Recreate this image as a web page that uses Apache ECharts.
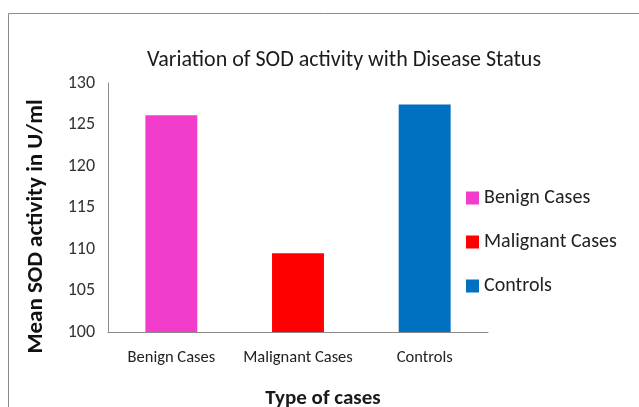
<!DOCTYPE html>
<html><head><meta charset="utf-8">
<script src="https://cdn.jsdelivr.net/npm/echarts@6/dist/echarts.min.js"></script>
<style>html,body{margin:0;padding:0;background:#fff}#c{width:639px;height:407px}</style>
</head><body><div id="c"></div>
<script>
const categories = ['Benign Cases', 'Malignant Cases', 'Controls'];
const seriesNames = ['Benign Cases', 'Malignant Cases', 'Controls'];
const seriesValues = [126.1, 109.5, 127.4];
const seriesColors = ['#f23ccc', '#ff0000', '#0070c0'];
const yTicks = [100, 105, 110, 115, 120, 125, 130];

const FONT = 'Carlito, Calibri, "Liberation Sans Narrow", "Open Sans", sans-serif';
const chart = echarts.init(document.getElementById('c'), null, {renderer: 'canvas'});
const series = seriesNames.map((n, i) => ({
  name: n, type: 'bar', stack: 'all', barWidth: '41%',
  itemStyle: {color: seriesColors[i]},
  data: categories.map((c, j) => j === i ? seriesValues[i] : '-')
}));
chart.setOption({
  animation: false,
  title: {text: 'Variation of SOD activity with Disease Status', left: 339, top: 44, textAlign: 'center',
    textStyle: {fontFamily: FONT, fontSize: 22, fontWeight: 'normal', color: '#1a1a1a'}},
  grid: {left: 108, right: 151, top: 83, bottom: 75, containLabel: false, outerBoundsMode: 'none'},
  legend: {orient: 'vertical', left: 461, top: 183, itemWidth: 13, itemHeight: 13, itemGap: 24,
    icon: 'rect', textStyle: {fontFamily: FONT, fontSize: 20, color: '#222'}, data: seriesNames},
  xAxis: {type: 'category', data: categories,
    axisLine: {lineStyle: {color: '#8a8a8a', width: 1}}, axisTick: {show: false},
    axisLabel: {fontFamily: FONT, fontSize: 16.5, color: '#222', margin: 17, interval: 0, hideOverlap: false},
    name: 'Type of cases', nameLocation: 'middle', nameGap: 56,
    nameTextStyle: {fontFamily: FONT, fontSize: 21, fontWeight: 'bold', color: '#1a1a1a', padding: [0, 0, 0, 50]}},
  yAxis: {type: 'value', min: yTicks[0], max: yTicks[yTicks.length - 1], interval: 5,
    axisLine: {show: true, lineStyle: {color: '#8a8a8a', width: 1}}, axisTick: {show: false},
    splitLine: {show: false},
    axisLabel: {fontFamily: FONT, fontSize: 18, color: '#333', margin: 13},
    name: 'Mean SOD activity in U/ml', nameLocation: 'middle', nameGap: 60,
    nameTextStyle: {fontFamily: FONT, fontSize: 23, fontWeight: 'bold', color: '#111', padding: [0, 38, 0, 0]}},
  graphic: [{type: 'rect', shape: {x: 8.5, y: 13.5, width: 700, height: 500},
    style: {fill: 'none', stroke: '#8c8c8c', lineWidth: 1}, silent: true}],
  series: series
});
</script></body></html>
